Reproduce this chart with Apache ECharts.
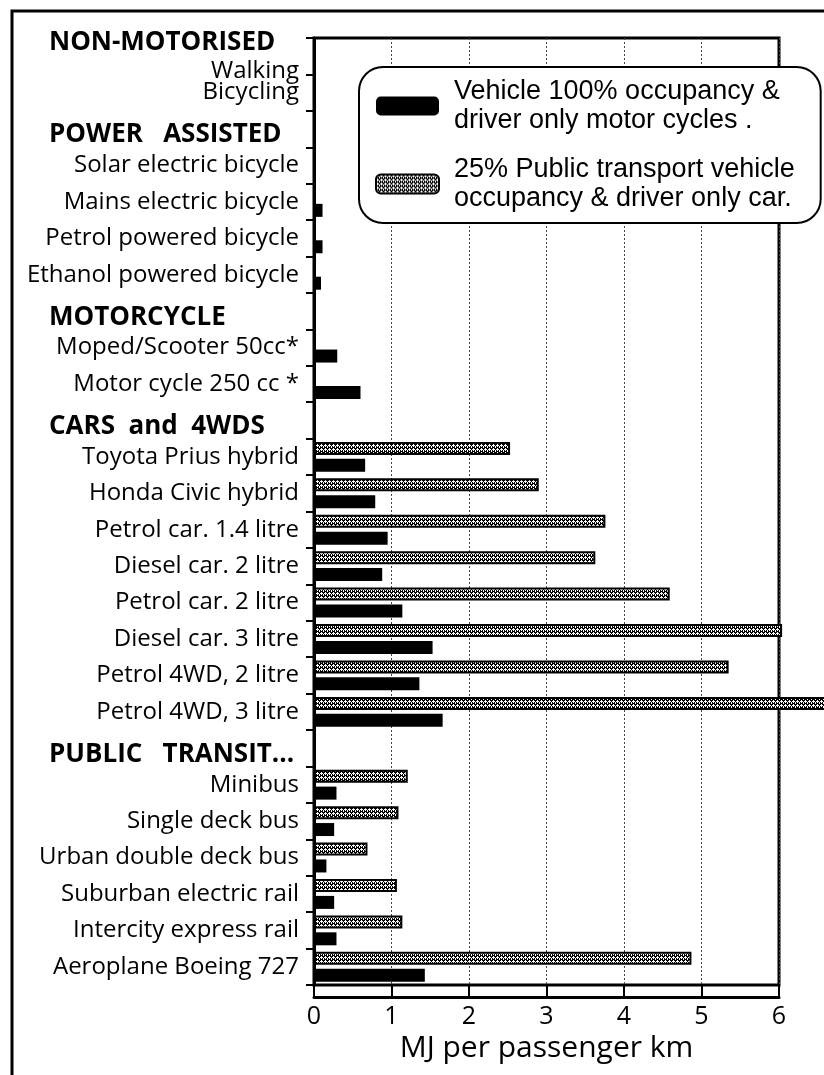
<!DOCTYPE html>
<html>
<head>
<meta charset="utf-8">
<title>MJ per passenger km</title>
<script src="https://cdn.jsdelivr.net/npm/echarts@6/dist/echarts.min.js"></script>
<style>
  html, body { margin: 0; padding: 0; background: #fff; }
  #chart { width: 824px; height: 1075px; }
</style>
</head>
<body>
<div id="chart"></div>
<script>
// rows top to bottom, group titles get a row of their own (no bars)
const categories = [
  'NON-MOTORISED\nWalking',
  'Bicycling',
  'POWER   ASSISTED',
  'Solar electric bicycle',
  'Mains electric bicycle',
  'Petrol powered bicycle',
  'Ethanol powered bicycle',
  'MOTORCYCLE',
  'Moped/Scooter 50cc*',
  'Motor cycle 250 cc *',
  'CARS  and  4WDS',
  'Toyota Prius hybrid',
  'Honda Civic hybrid',
  'Petrol car. 1.4 litre',
  'Diesel car. 2 litre',
  'Petrol car. 2 litre',
  'Diesel car. 3 litre',
  'Petrol 4WD, 2 litre',
  'Petrol 4WD, 3 litre',
  'PUBLIC   TRANSIT...',
  'Minibus',
  'Single deck bus',
  'Urban double deck bus',
  'Suburban electric rail',
  'Intercity express rail',
  'Aeroplane Boeing 727'
]
const groupTitles = ['NON-MOTORISED', 'POWER   ASSISTED', 'MOTORCYCLE', 'CARS  and  4WDS', 'PUBLIC   TRANSIT...']

const fullName = 'Vehicle 100% occupancy &\ndriver only motor cycles .'
const partName = '25% Public transport vehicle\noccupancy & driver only car.'

// MJ per passenger km
const fullOccupancy = [null, null, null, null, 0.11, 0.11, 0.09, null, 0.30, 0.60, null,
  0.66, 0.79, 0.95, 0.88, 1.14, 1.53, 1.36, 1.66, null,
  0.29, 0.26, 0.16, 0.26, 0.29, 1.43]
const partOccupancy = [null, null, null, null, null, null, null, null, null, null, null,
  2.53, 2.90, 3.76, 3.63, 4.59, 6.04, 5.35, 6.9, null,
  1.21, 1.09, 0.69, 1.07, 1.14, 4.87]

const xTicks = [0, 1, 2, 3, 4, 5, 6]

const labelFont = 'Open Sans'

// grey stipple used for the 25% bars
function makeStipple() {
  const cv = document.createElement('canvas')
  cv.width = 4
  cv.height = 4
  const c = cv.getContext('2d')
  c.fillStyle = '#000'
  c.fillRect(0, 0, 4, 4)
  c.fillStyle = '#fff'
  c.fillRect(1, 0, 1, 1)
  c.fillRect(0, 1, 3, 1)
  c.fillRect(1, 2, 1, 1)
  c.fillRect(3, 2, 1, 1)
  c.fillRect(3, 3, 1, 1)
  return cv
}

const chart = echarts.init(document.getElementById('chart'), null, { renderer: 'canvas' })

chart.setOption({
  animation: false,
  backgroundColor: '#fff',
  graphic: [{
    type: 'rect',
    shape: { x: 12, y: 11, width: 900, height: 1200 },
    style: { fill: null, stroke: '#000', lineWidth: 3 },
    silent: true
  }],
  legend: {
    data: [fullName, partName],
    orient: 'vertical',
    left: 359,
    top: 67,
    padding: [10, 26, 10, 16],
    itemWidth: 63,
    itemHeight: 19,
    itemGap: 20,
    backgroundColor: '#fff',
    borderColor: '#000',
    borderWidth: 2,
    borderRadius: 24,
    selectedMode: false,
    textStyle: {
      fontFamily: 'Liberation Sans',
      fontSize: 27,
      lineHeight: 29,
      color: '#000',
      padding: [0, 0, 0, 10]
    }
  },
  grid: {
    left: 314,
    right: 45,
    top: 38,
    bottom: 90,
    show: true,
    borderColor: '#000',
    borderWidth: 3
  },
  xAxis: {
    type: 'value',
    min: xTicks[0],
    max: xTicks[xTicks.length - 1],
    interval: 1,
    offset: 12,
    name: 'MJ per passenger km',
    nameLocation: 'middle',
    nameGap: 36,
    nameTextStyle: { fontFamily: labelFont, fontSize: 30, color: '#000' },
    axisLine: { show: true, lineStyle: { color: '#000', width: 3 } },
    axisTick: { show: true, inside: true, length: 12, lineStyle: { color: '#000', width: 2 } },
    axisLabel: { fontFamily: labelFont, fontSize: 25, color: '#000', margin: 7 },
    splitLine: { show: true, lineStyle: { color: '#444', width: 1, type: [2, 2] } }
  },
  yAxis: {
    type: 'category',
    inverse: true,
    data: categories,
    axisLine: { show: true, lineStyle: { color: '#000', width: 3 } },
    axisTick: { show: true, length: 8, lineStyle: { color: '#000', width: 2 } },
    axisLabel: {
      interval: 0,
      margin: 15,
      color: '#000',
      formatter: function (value) {
        const lines = value.split('\n')
        return lines.map(function (line) {
          if (groupTitles.indexOf(line) < 0) return '{n|' + line + '}'
          return (lines.length > 1 ? '{h|' : '{hd|') + line + '}'
        }).join('\n')
      },
      rich: {
        n: { fontFamily: labelFont, fontSize: 24, lineHeight: 27, color: '#000' },
        h: { fontFamily: labelFont, fontSize: 26, fontWeight: 'bold', lineHeight: 29, width: 250, align: 'left', color: '#000' },
        hd: { fontFamily: labelFont, fontSize: 26, fontWeight: 'bold', lineHeight: 29, width: 250, align: 'left', color: '#000', padding: [12, 0, 0, 0] }
      }
    }
  },
  series: [{
    name: partName,
    type: 'bar',
    data: partOccupancy,
    barWidth: 13,
    barGap: '30%',
    clip: false,
    itemStyle: {
      color: { image: makeStipple(), repeat: 'repeat' },
      borderColor: '#000',
      borderWidth: 2
    }
  }, {
    name: fullName,
    type: 'bar',
    data: fullOccupancy,
    barWidth: 13,
    barGap: '30%',
    clip: false,
    itemStyle: { color: '#000' }
  }]
})
</script>
</body>
</html>
